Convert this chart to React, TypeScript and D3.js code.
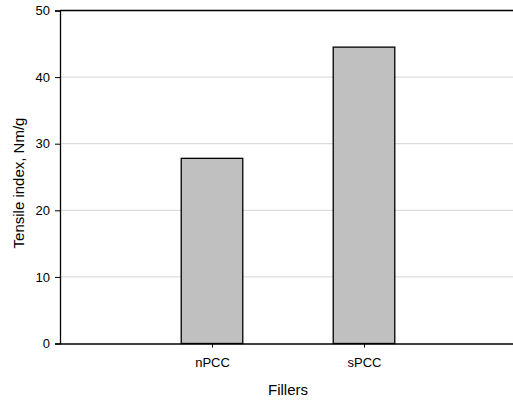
import React, { useEffect, useRef } from "react";
import { axisBottom, axisLeft, scaleLinear, select } from "d3";

const categories = ["nPCC", "sPCC"];
const tensileIndex = [27.8, 44.5];
const yTicks = [0, 10, 20, 30, 40, 50];

const W = 513;
const H = 401;
const margin = { top: 10.5, right: 0, bottom: 57.5, left: 60 };
const font = "'Liberation Sans', Arial, sans-serif";

function AxisLeft({ scale }) {
  const ref = useRef(null);
  useEffect(() => {
    if (ref.current) {
      const g = select(ref.current);
      g.call(axisLeft(scale).tickValues(yTicks).tickSize(5).tickPadding(5));
      g.select(".domain").attr("stroke", "#000").attr("stroke-width", 1.3);
      g.selectAll(".tick line").attr("stroke", "#000");
      g.selectAll("text").style("font-size", "13px").style("font-family", font).attr("fill", "#000");
    }
  }, [scale]);
  return <g ref={ref} transform={`translate(${margin.left},0)`} />;
}

function AxisBottom({ scale, y }) {
  const ref = useRef(null);
  useEffect(() => {
    if (ref.current) {
      const g = select(ref.current);
      g.call(
        axisBottom(scale)
          .tickValues(categories.map((_, i) => i + 1))
          .tickFormat((d) => categories[d - 1])
          .tickSize(4)
          .tickSizeOuter(0)
          .tickPadding(10)
      );
      g.select(".domain").attr("stroke", "#000").attr("stroke-width", 1.3);
      g.selectAll(".tick line").attr("stroke", "#000");
      g.selectAll("text").style("font-size", "13px").style("font-family", font).attr("fill", "#000");
    }
  }, [scale]);
  return <g ref={ref} transform={`translate(0,${y})`} />;
}

export default function App() {
  // categories sit at 1 and 2 on a 0..3 axis that runs past the right edge
  const x = scaleLinear().domain([0, 3]).range([margin.left, 516]);
  const y = scaleLinear().domain([0, 50]).range([H - margin.bottom, margin.top]);
  const step = x(1) - x(0);
  const barW = step * 0.405;

  return (
    <div style={{ position: "absolute", left: 0, top: 0 }}>
      <svg width={W} height={H} style={{ display: "block", background: "#fff" }}>
        {yTicks.slice(1, -1).map((t) => (
          <line key={t} x1={margin.left} x2={W} y1={y(t)} y2={y(t)} stroke="#d4d4d4" strokeWidth={1} />
        ))}
        <line x1={margin.left} x2={W} y1={y(50)} y2={y(50)} stroke="#000" strokeWidth={1.3} />
        {categories.map((c, i) => (
          <rect
            key={c}
            x={x(i + 1) - barW / 2}
            y={y(tensileIndex[i])}
            width={barW}
            height={y(0) - y(tensileIndex[i])}
            fill="#c0c0c0"
            stroke="#000"
            strokeWidth={1.3}
          />
        ))}
        <AxisLeft scale={y} />
        <AxisBottom scale={x} y={y(0)} />
        <text x={288} y={395} textAnchor="middle" fontFamily={font} fontSize={15} fill="#000">
          Fillers
        </text>
        <text
          transform={`translate(24,${(margin.top + y(0)) / 2 + 6}) rotate(-90)`}
          textAnchor="middle"
          fontFamily={font}
          fontSize={15}
          fill="#000"
        >
          Tensile index, Nm/g
        </text>
      </svg>
    </div>
  );
}
